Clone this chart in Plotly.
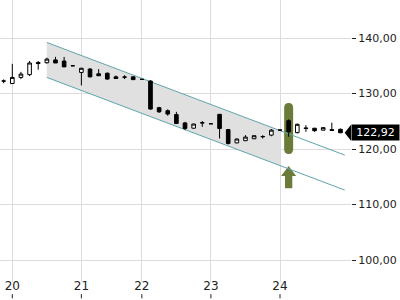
import plotly.graph_objects as go
import numpy as np

# ---- data ----
opens  = [132.25,131.8,132.9,133.4,135.6,135.55,136.05,135.85,135.0,133.8,
          134.4,133.55,133.65,133.0,132.97,133.0,132.55,132.25,127.45,126.9,
          126.2,124.7,123.75,124.75,124.55,126.25,123.5,121.1,121.5,121.85,
          122.2,122.5,123.42,125.1,122.95,123.8,123.75,123.4,123.5,123.55]
highs  = [132.55,135.35,133.9,135.85,135.85,136.45,136.6,136.6,135.0,134.65,
          134.6,134.4,133.8,133.25,133.3,133.05,132.55,132.4,127.6,127.15,
          126.7,124.9,124.55,125.05,124.55,126.3,123.6,121.9,122.5,122.45,
          122.5,123.6,123.42,125.35,124.6,124.3,123.8,123.95,124.75,123.7]
lows   = [131.85,131.7,132.6,133.15,134.3,135.4,135.5,134.8,135.0,131.45,
          132.9,133.2,132.5,132.7,132.6,132.5,132.55,127.1,126.5,126.0,
          124.5,123.4,123.7,124.0,124.55,121.9,120.8,121.05,121.45,121.8,
          121.9,122.3,123.42,122.2,122.8,123.1,123.1,123.35,123.3,122.92]
closes = [132.25,132.9,133.5,135.5,135.4,136.2,135.5,134.8,135.0,134.55,
          133.0,133.2,132.6,132.7,132.95,132.5,132.55,127.2,126.7,126.3,
          124.6,123.7,124.5,124.7,124.55,123.7,121.0,121.8,122.15,122.4,
          122.25,123.4,123.42,123.1,124.45,123.7,123.3,123.85,123.35,122.92]

day_labels = ["20", "21", "22", "23", "24"]
day_first_idx = [1, 9, 16, 24, 32]

channel_x = [5, 39.5]
channel_upper = [139.2, 118.9]
channel_lower = [132.9, 112.6]
channel_fill_end = 32

signal_idx = 33
signal_bar = [119.1, 128.3]
signal_arrow = [112.95, 115.15, 116.95]   # bottom, head base, tip

y_ticks = [100, 110, 120, 130, 140]

# ---- figure ----
x = np.arange(len(opens))
teal = "#5fa5ab"
olive = "#6a7c38"

def line_at(xv, ys):
    return ys[0] + (ys[1] - ys[0]) * (xv - channel_x[0]) / (channel_x[1] - channel_x[0])

def poly(xs, ys):
    return "M " + " L ".join(f"{a},{b}" for a, b in zip(xs, ys)) + " Z"

shapes = []

# channel fill
fx = [channel_x[0], channel_fill_end, channel_fill_end, channel_x[0]]
fy = [channel_upper[0], line_at(channel_fill_end, channel_upper),
      line_at(channel_fill_end, channel_lower), channel_lower[0]]
shapes.append(dict(type="path", path=poly(fx, fy), xref="x", yref="y",
                   fillcolor="#e0e0e0", line=dict(width=0), layer="between"))

# rounded signal bar
x0, x1 = signal_idx - 0.52, signal_idx + 0.52
y0, y1 = signal_bar
rx, ry = 0.52, 0.85
path = (f"M {x0+rx},{y1} L {x1-rx},{y1} Q {x1},{y1} {x1},{y1-ry} "
        f"L {x1},{y0+ry} Q {x1},{y0} {x1-rx},{y0} L {x0+rx},{y0} "
        f"Q {x0},{y0} {x0},{y0+ry} L {x0},{y1-ry} Q {x0},{y1} {x0+rx},{y1} Z")
shapes.append(dict(type="path", path=path, xref="x", yref="y", fillcolor=olive,
                   line=dict(width=0), layer="between"))

# green arrow
hw, sw = 0.87, 0.42
ax = [signal_idx - sw, signal_idx - sw, signal_idx - hw, signal_idx,
      signal_idx + hw, signal_idx + sw, signal_idx + sw]
ay = [signal_arrow[0], signal_arrow[1], signal_arrow[1], signal_arrow[2],
      signal_arrow[1], signal_arrow[1], signal_arrow[0]]
shapes.append(dict(type="path", path=poly(ax, ay), xref="x", yref="y",
                   fillcolor=olive, line=dict(width=0), layer="between"))

# channel lines
for ys in (channel_upper, channel_lower):
    shapes.append(dict(type="line", xref="x", yref="y", x0=channel_x[0], x1=channel_x[1],
                       y0=ys[0], y1=ys[1], line=dict(color=teal, width=1), layer="between"))

# bottom tick marks (below the labels)
for v in day_first_idx:
    shapes.append(dict(type="line", xref="x", yref="paper", x0=v, x1=v,
                       y0=-0.043, y1=-0.058, line=dict(color="#222", width=1)))

# last price pointer
last = closes[-1]
shapes.append(dict(type="path", xref="paper", yref="y",
                   path=f"M 0.982,{last} L 1.0,{last+1.45} L 1.0,{last-1.45} Z",
                   fillcolor="black", line=dict(width=0)))

fig = go.Figure()
fig.add_trace(go.Candlestick(
    x=x, open=opens, high=highs, low=lows, close=closes,
    increasing=dict(line=dict(color="black", width=1), fillcolor="white"),
    decreasing=dict(line=dict(color="black", width=1), fillcolor="black"),
    whiskerwidth=0, hoverinfo="skip"))

fig.add_annotation(xref="paper", yref="y", x=1.0, y=last, xanchor="left",
                   yanchor="middle", text=f"{last:.2f}".replace(".", ","),
                   showarrow=False, bgcolor="black", borderpad=1, width=45,
                   font=dict(color="white", size=11, family="DejaVu Sans"))

fig.update_layout(
    width=400, height=300,
    margin=dict(l=0, r=49, t=0, b=18),
    paper_bgcolor="white", plot_bgcolor="white",
    showlegend=False, separators=",.", boxgap=0.4,
    font=dict(family="DejaVu Sans", size=11, color="#222"),
    shapes=shapes,
    xaxis=dict(range=[-0.424, 40.22], tickvals=day_first_idx, ticktext=day_labels,
               showgrid=True, gridcolor="#dcdcdc", gridwidth=1, ticks="",
               zeroline=False, showline=False, rangeslider=dict(visible=False),
               tickfont=dict(size=12), ticklabelstandoff=-5),
    yaxis=dict(side="right", range=[96.04, 146.85], tickvals=y_ticks,
               tickformat=".2f", showgrid=True, gridcolor="#dcdcdc", gridwidth=1,
               ticks="outside", ticklen=4, tickcolor="#222", zeroline=False,
               showline=False),
)

fig.write_html("out.html")
